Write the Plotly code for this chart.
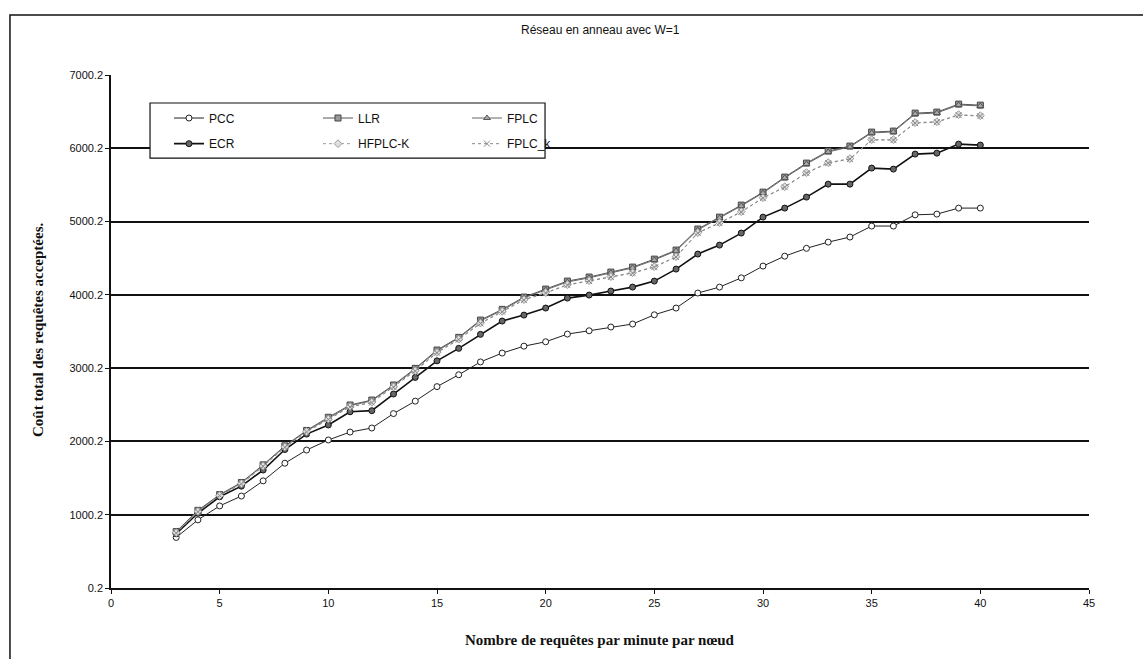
import plotly.graph_objects as go

# Requests per minute per node
x_vals = list(range(3, 41))

pcc = [690, 930, 1120, 1255, 1462, 1703, 1883, 2020, 2128, 2183, 2380, 2550, 2748,
       2910, 3085, 3206, 3300, 3360, 3465, 3510, 3561, 3602, 3728, 3820, 4025, 4106,
       4232, 4393, 4528, 4635, 4720, 4789, 4939, 4939, 5092, 5102, 5184, 5184]
llr = [770, 1060, 1275, 1440, 1680, 1940, 2150, 2330, 2497, 2565, 2770, 2997, 3247,
       3420, 3656, 3802, 3970, 4079, 4188, 4243, 4311, 4379, 4488, 4611, 4898, 5061,
       5225, 5402, 5607, 5798, 5962, 6030, 6221, 6235, 6480, 6494, 6603, 6589]
fplc = [765, 1052, 1268, 1432, 1672, 1932, 2142, 2320, 2488, 2555, 2760, 2985, 3235,
        3410, 3645, 3790, 3958, 4068, 4176, 4232, 4300, 4368, 4476, 4600, 4886, 5050,
        5214, 5390, 5596, 5786, 5950, 6019, 6210, 6224, 6468, 6482, 6592, 6578]
ecr = [740, 1020, 1245, 1390, 1610, 1890, 2100, 2225, 2405, 2420, 2647, 2874, 3100,
       3270, 3461, 3643, 3724, 3820, 3956, 3997, 4052, 4106, 4188, 4352, 4557, 4679,
       4843, 5061, 5184, 5334, 5511, 5511, 5730, 5716, 5921, 5934, 6057, 6044]
hfplc_k = [755, 1045, 1263, 1425, 1665, 1925, 2135, 2305, 2476, 2536, 2746, 2966, 3216,
           3396, 3616, 3776, 3935, 4031, 4140, 4194, 4249, 4303, 4385, 4522, 4849, 4986,
           5136, 5326, 5476, 5668, 5804, 5859, 6118, 6118, 6350, 6363, 6459, 6445]
fplc_k = [750, 1040, 1260, 1420, 1660, 1920, 2130, 2300, 2470, 2530, 2740, 2960, 3210,
          3390, 3610, 3770, 3929, 4025, 4134, 4188, 4243, 4297, 4379, 4516, 4843, 4980,
          5130, 5320, 5470, 5662, 5798, 5853, 6112, 6112, 6344, 6357, 6453, 6439]

y_ticks = [0.2, 1000.2, 2000.2, 3000.2, 4000.2, 5000.2, 6000.2, 7000.2]
y_tick_text = ["0.2", "1000.2", "2000.2", "3000.2", "4000.2", "5000.2", "6000.2", "7000.2"]
x_ticks = [0, 5, 10, 15, 20, 25, 30, 35, 40, 45]

series = [
    # name, values, line colour, line width, dash, marker symbol, marker fill, marker line, legend
    ("PCC", pcc, "#222222", 1, "solid", "circle", "white", "#222222", "legend"),
    ("LLR", llr, "#555555", 1, "solid", "square", "#9a9a9a", "#444444", "legend"),
    ("FPLC", fplc, "#666666", 1, "solid", "triangle-up", "#aaaaaa", "#555555", "legend"),
    ("ECR", ecr, "#111111", 1.6, "solid", "circle", "#666666", "#111111", "legend2"),
    ("HFPLC-K", hfplc_k, "#9a9a9a", 1, "dot", "diamond", "#e0e0e0", "#999999", "legend2"),
    ("FPLC_k", fplc_k, "#888888", 1, "dot", "x-thin-open", "#888888", "#777777", "legend2"),
]

fig = go.Figure()
for name, vals, lc, lw, dash, sym, mfill, mline, leg in series:
    fig.add_trace(go.Scatter(
        x=x_vals, y=vals, name=name, mode="lines+markers",
        line=dict(color=lc, width=lw, dash=dash),
        marker=dict(symbol=sym, size=6, color=mfill, line=dict(color=mline, width=1)),
        legend=leg,
    ))

tick_font = dict(family="Liberation Sans, Arial", size=11, color="#111111")
legend_common = dict(
    orientation="h", xanchor="left", yanchor="top", entrywidth=104,
    entrywidthmode="pixels", bgcolor="rgba(0,0,0,0)", borderwidth=0,
    font=dict(family="Liberation Sans, Arial", size=12, color="#111111"),
    itemwidth=30, tracegroupgap=0,
)

fig.update_layout(
    width=1143, height=659,
    margin=dict(l=111, r=54, t=75, b=71),
    paper_bgcolor="white", plot_bgcolor="white",
    showlegend=True,
    legend=dict(x=0.0593, y=0.9444, **legend_common),
    legend2=dict(x=0.0593, y=0.8944, **legend_common),
    xaxis=dict(
        range=[0, 45], tickvals=x_ticks, ticks="outside", ticklen=4,
        tickcolor="#111111", showgrid=False, zeroline=False,
        showline=True, linecolor="#111111", linewidth=1.5,
        tickfont=tick_font,
    ),
    yaxis=dict(
        range=[0.2, 7000.2], tickvals=y_ticks, ticktext=y_tick_text,
        ticks="outside", ticklen=4, tickcolor="#111111",
        showgrid=True, gridcolor="#111111", gridwidth=1.5, zeroline=False,
        showline=True, linecolor="#111111", linewidth=1.5,
        tickfont=tick_font,
    ),
    shapes=[
        # legend frame, filled so the gridline does not run under the entries
        dict(type="rect", xref="paper", yref="paper", x0=0.0399, x1=0.4438,
             y0=0.838, y1=0.9454, line=dict(color="#111111", width=1.2),
             fillcolor="white", layer="above"),
        # outer chart frame
        dict(type="rect", xref="paper", yref="paper", x0=-0.1033, x1=1.07,
             y0=-0.2, y1=1.117, line=dict(color="#111111", width=1.5),
             fillcolor="rgba(0,0,0,0)", layer="above"),
    ],
    annotations=[
        dict(text="Réseau en anneau avec W=1", xref="paper", yref="paper",
             x=(600 - 111) / 978, y=(588 - 30) / 513, showarrow=False,
             xanchor="center", yanchor="middle",
             font=dict(family="Liberation Sans, Arial", size=12, color="#111111")),
        dict(text="<b>Nombre de requêtes par minute par nœud</b>", xref="paper", yref="paper",
             x=(600 - 111) / 978, y=(588 - 640) / 513, showarrow=False,
             xanchor="center", yanchor="middle",
             font=dict(family="Liberation Serif, Times New Roman", size=15, color="#111111")),
        dict(text="<b>Coût total des requêtes acceptées.</b>", xref="paper", yref="paper",
             x=(38 - 111) / 978, y=(588 - 330) / 513, showarrow=False, textangle=-90,
             xanchor="center", yanchor="middle",
             font=dict(family="Liberation Serif, Times New Roman", size=15, color="#111111")),
    ],
)

fig.write_html("out.html")
